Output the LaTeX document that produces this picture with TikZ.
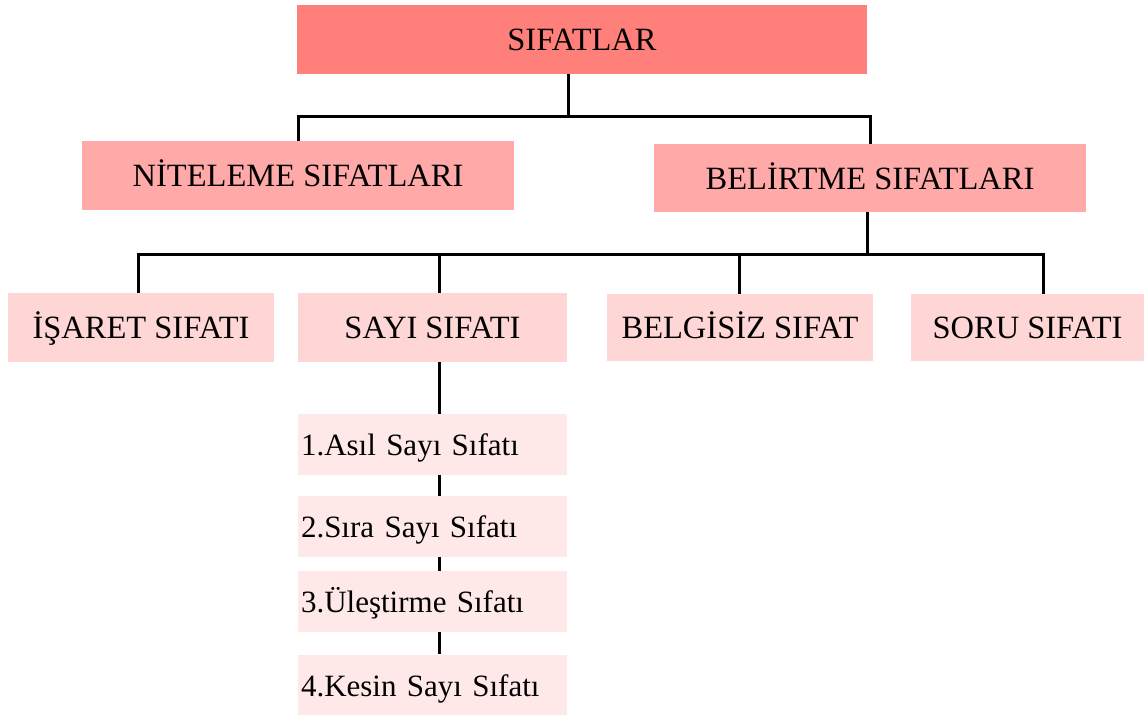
\documentclass[tikz,border=0pt]{standalone}
\usepackage{fontspec}
\setmainfont{Liberation Serif}
\definecolor{cA}{RGB}{255,128,122}
\definecolor{cB}{RGB}{255,170,168}
\definecolor{cC}{RGB}{255,214,214}
\definecolor{cD}{RGB}{255,232,232}
\begin{document}
\begin{tikzpicture}[x=1pt,y=-1pt,
  box/.style={inner sep=0pt, font=\fontsize{32.5}{38}\selectfont, text=black, text height=22pt, text depth=0pt},
  subbox/.style={box, font=\fontsize{31}{37}\selectfont, fill=cD, minimum width=269pt, minimum height=61pt, text width=263pt, align=left, inner xsep=3pt},
  conn/.style={draw=black, line width=3pt}]
\useasboundingbox (0,0) rectangle (1144,715);
\node[box, fill=cA, minimum width=570pt, minimum height=69pt] (top) at (582,39.5) {SIFATLAR};
\node[box, fill=cB, minimum width=432pt, minimum height=69pt] (nit) at (298,175.5) {NİTELEME SIFATLARI};
\node[box, fill=cB, minimum width=432pt, minimum height=68pt] (bel) at (870,178) {BELİRTME SIFATLARI};
\node[box, fill=cC, minimum width=266pt, minimum height=69pt] (isa) at (141,327.5) {İŞARET SIFATI};
\node[box, fill=cC, minimum width=269pt, minimum height=69pt] (sayi) at (432.5,327.5) {SAYI SIFATI};
\node[box, fill=cC, minimum width=266pt, minimum height=67pt] (belg) at (740,327.5) {BELGİSİZ SIFAT};
\node[box, fill=cC, minimum width=233pt, minimum height=67pt] (soru) at (1027.5,327.5) {SORU SIFATI};
\node[subbox] (s1) at (432.5,444.5) {1.Asıl Sayı Sıfatı};
\node[subbox] (s2) at (432.5,526.5) {2.Sıra Sayı Sıfatı};
\node[subbox] (s3) at (432.5,601.5) {3.Üleştirme Sıfatı};
\node[subbox] (s4) at (432.5,685) {4.Kesin Sayı Sıfatı};
\coordinate (j1) at (568,116);
\coordinate (j2) at (867,254);
\coordinate (d1) at (138,254);
\coordinate (d2) at (439,254);
\coordinate (d3) at (739,254);
\coordinate (d4) at (1043,254);
\coordinate (v) at (439,0);
\draw[conn] (top.south -| j1) -- (j1);
\draw[conn] (nit.north) -- (nit.north |- j1) -- (bel.north |- j1) -- (bel.north);
\draw[conn] (bel.south -| j2) -- (j2);
\draw[conn] (d1 |- isa.north) -- (d1) -- (d4) -- (d4 |- soru.north);
\draw[conn] (d2) -- (d2 |- sayi.north);
\draw[conn] (d3) -- (d3 |- belg.north);
\draw[conn] (v |- sayi.south) -- (v |- s1.north);
\draw[conn] (v |- s1.south) -- (v |- s2.north);
\draw[conn] (v |- s2.south) -- (v |- s3.north);
\draw[conn] (v |- s3.south) -- (v |- s4.north);
\end{tikzpicture}
\end{document}
